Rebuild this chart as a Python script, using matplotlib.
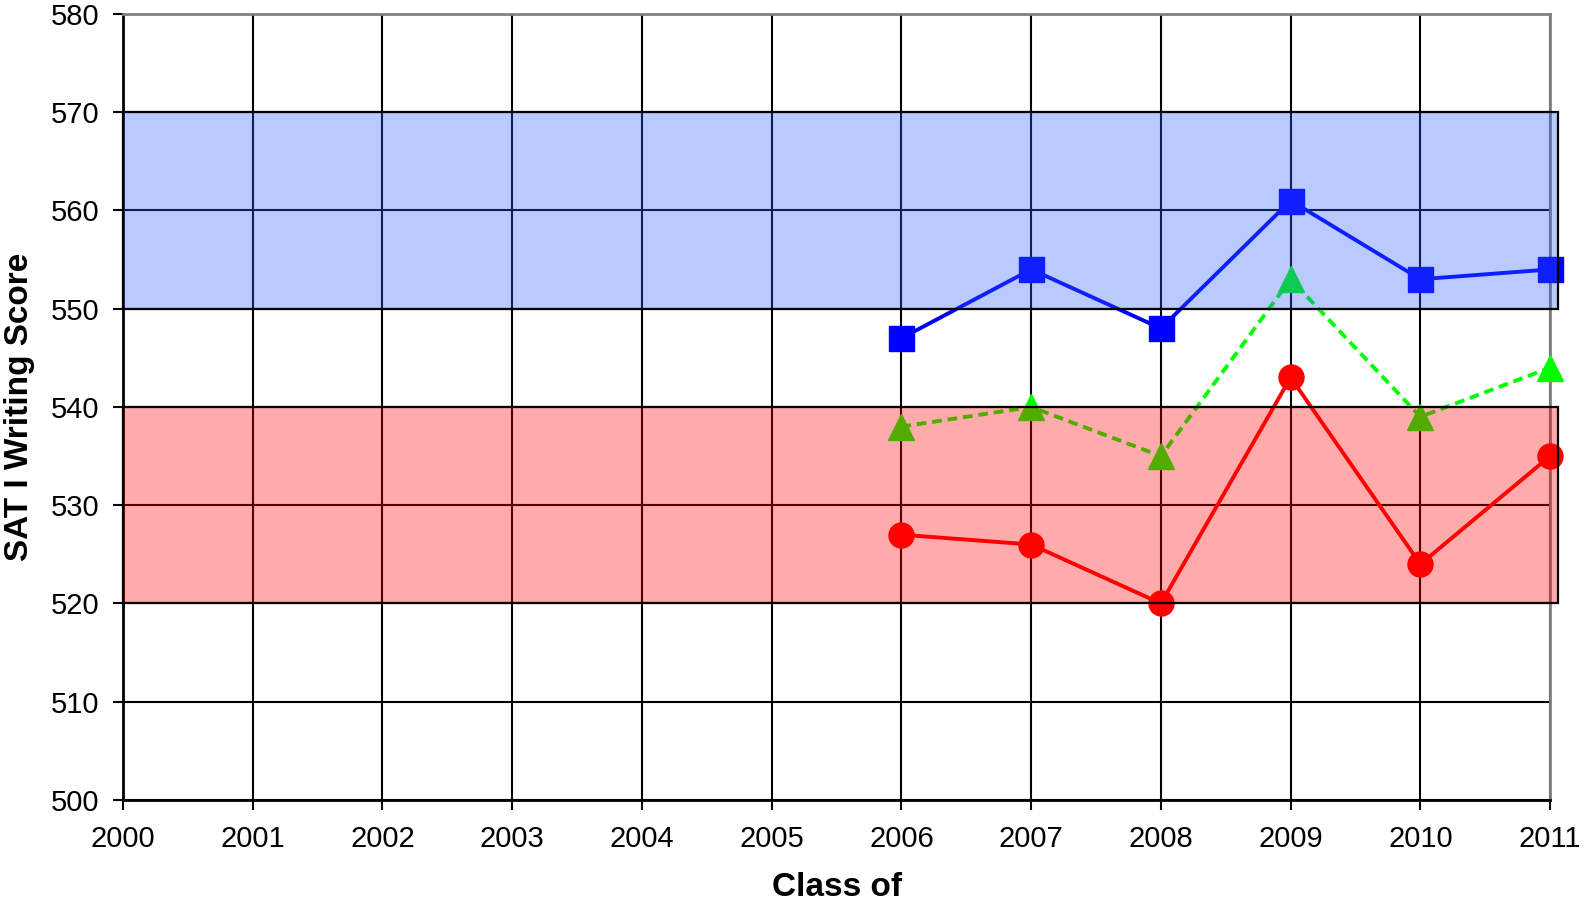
import matplotlib.pyplot as plt
from matplotlib.patches import Rectangle

plt.rcParams['font.family'] = ['Liberation Sans', 'DejaVu Sans']

years = [2006, 2007, 2008, 2009, 2010, 2011]
blue_scores = [547, 554, 548, 561, 553, 554]
green_scores = [538, 540, 535, 553, 539, 544]
red_scores = [527, 526, 520, 543, 524, 535]

# target bands (low, high)
blue_band = (550, 570)
red_band = (520, 540)

fig = plt.figure(figsize=(15.85, 9.07), dpi=100)
ax = fig.add_axes([0.0776, 0.118, 0.9004, 0.8666])

ax.plot(years, blue_scores, color='#0000ff', lw=2.8, marker='s', ms=18,
        mec='#0000ff', zorder=3, clip_on=False)
ax.plot(years, green_scores, color='#00ff00', lw=2.8, ls=(0, (2.5, 1.5)),
        marker='^', ms=19, mec='#00ff00', zorder=3, clip_on=False)
ax.plot(years, red_scores, color='#ff0000', lw=2.8, marker='o', ms=18,
        mec='#ff0000', zorder=3, clip_on=False)

# shaded bands sit on top of the lines, like the original
for (lo, hi), c in [(blue_band, '#3060ff'), (red_band, '#ff0000')]:
    ax.add_patch(Rectangle((2000, lo), 11.06, hi - lo, facecolor=c, alpha=0.33,
                           edgecolor='none', zorder=4, clip_on=False))
    ax.add_patch(Rectangle((2000, lo), 11.06, hi - lo, facecolor='none',
                           edgecolor='black', lw=1.6, zorder=4, clip_on=False))

ax.set_xlim(2000, 2011)
ax.set_ylim(500, 580)
ax.set_xticks(range(2000, 2012))
ax.set_yticks(range(500, 581, 10))
ax.grid(True, color='black', lw=1.5, zorder=1)
ax.set_axisbelow(True)

for s in ['top', 'right']:
    ax.spines[s].set_color('#808080')
    ax.spines[s].set_linewidth(2)
for s in ['left', 'bottom']:
    ax.spines[s].set_color('black')
    ax.spines[s].set_linewidth(2)

ax.tick_params(direction='out', length=7, width=1.5, labelsize=21)
ax.tick_params(axis='x', pad=11)
ax.tick_params(axis='y', pad=10)
ax.set_xlabel('Class of', fontsize=24, fontweight='bold', labelpad=14)
ax.set_ylabel('SAT I Writing Score', fontsize=24, fontweight='bold', labelpad=11)

fig.savefig('out.png', dpi=100)
